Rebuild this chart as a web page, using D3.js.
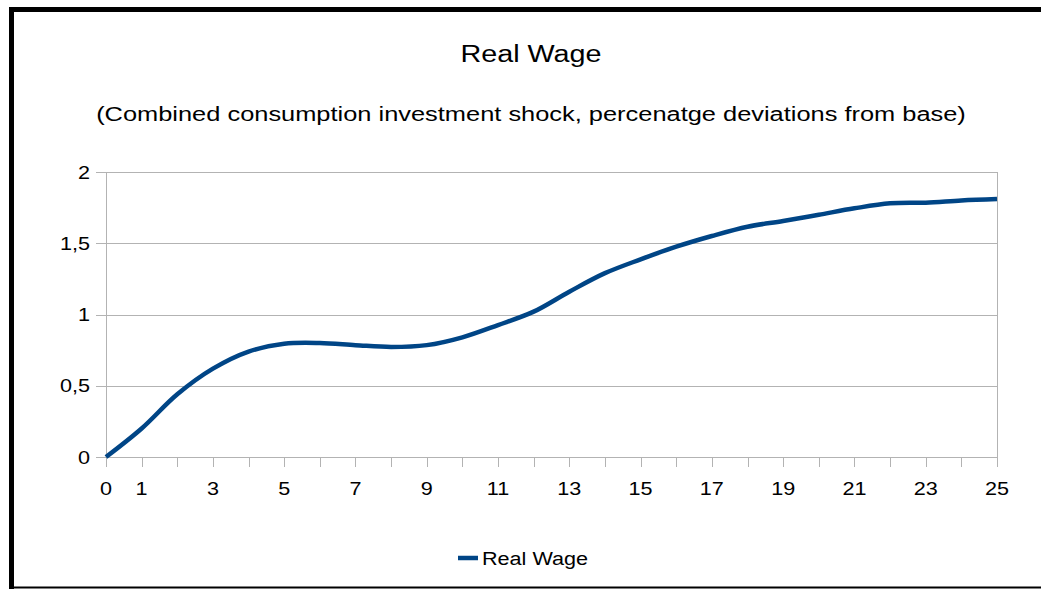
<!DOCTYPE html>
<html>
<head>
<meta charset="utf-8">
<title>Real Wage</title>
<script src="https://d3js.org/d3.v7.min.js"></script>
<style>
  body { margin: 0; background: #fff; }
  svg text { font-family: "Liberation Sans", Arial, sans-serif; fill: #000; }
</style>
</head>
<body>
<svg id="chart" width="1041" height="589"></svg>
<script>
// periods after the shock
var periods = d3.range(0, 26);
// real wage, % deviation from base
var realWage = [0, 0.20, 0.44, 0.62, 0.74, 0.795, 0.80, 0.785, 0.772, 0.785,
                0.84, 0.926, 1.02, 1.16, 1.29, 1.387, 1.476, 1.551, 1.616, 1.656,
                1.70, 1.745, 1.78, 1.785, 1.80, 1.81];
var xLabels = [0, 1, 3, 5, 7, 9, 11, 13, 15, 17, 19, 21, 23, 25];
var yTicks = [0, 0.5, 1, 1.5, 2];

var svg = d3.select("#chart");

// frame round the chart
svg.append("line").attr("x1", 11.5).attr("x2", 11.5).attr("y1", 7).attr("y2", 589)
  .attr("stroke", "#000").attr("stroke-width", 5);
svg.append("line").attr("x1", 9).attr("x2", 1041).attr("y1", 9.5).attr("y2", 9.5)
  .attr("stroke", "#000").attr("stroke-width", 5);
svg.append("line").attr("x1", 9).attr("x2", 1041).attr("y1", 587.5).attr("y2", 587.5)
  .attr("stroke", "#000").attr("stroke-width", 2);

var plotLeft = 106, plotRight = 997, plotTop = 172, plotBottom = 457;

var x = d3.scaleLinear().domain([0, 25]).range([plotLeft, plotRight]);
var y = d3.scaleLinear().domain([0, 2]).range([plotBottom, plotTop]);

// the reference font is drawn wider than Liberation Sans, so stretch texts
function widen(sel, k) {
  sel.each(function() {
    var w = this.getComputedTextLength();
    d3.select(this).attr("textLength", w * k).attr("lengthAdjust", "spacingAndGlyphs");
  });
}

// titles
svg.append("text").attr("x", 531).attr("y", 62).attr("text-anchor", "middle")
  .style("font-size", "23px").text("Real Wage")
  .call(widen, 1.25);
svg.append("text").attr("x", 531).attr("y", 121).attr("text-anchor", "middle")
  .style("font-size", "20px")
  .text("(Combined consumption investment shock, percenatge deviations from base)")
  .call(widen, 1.27);

// horizontal grid
svg.append("g").selectAll("line").data(yTicks).enter().append("line")
  .attr("x1", plotLeft - 10).attr("x2", plotRight)
  .attr("y1", d => Math.round(y(d)) + 0.5).attr("y2", d => Math.round(y(d)) + 0.5)
  .attr("stroke", "#b3b3b3").attr("stroke-width", 1);

// plot border sides
svg.append("line").attr("x1", plotLeft + 0.5).attr("x2", plotLeft + 0.5)
  .attr("y1", plotTop).attr("y2", plotBottom + 10)
  .attr("stroke", "#b3b3b3");
svg.append("line").attr("x1", plotRight + 0.5).attr("x2", plotRight + 0.5)
  .attr("y1", plotTop).attr("y2", plotBottom + 10)
  .attr("stroke", "#b3b3b3");

// x ticks
svg.append("g").selectAll("line").data(periods).enter().append("line")
  .attr("x1", d => Math.round(x(d)) + 0.5).attr("x2", d => Math.round(x(d)) + 0.5)
  .attr("y1", plotBottom).attr("y2", plotBottom + 10)
  .attr("stroke", "#b3b3b3");

svg.append("g").selectAll("text").data(xLabels).enter().append("text")
  .attr("x", d => x(d)).attr("y", 495)
  .attr("text-anchor", "middle").style("font-size", "18px")
  .text(d => d)
  .call(widen, 1.2);

var fmt = d => String(d).replace(".", ",");
svg.append("g").selectAll("text").data(yTicks).enter().append("text")
  .attr("x", 90).attr("y", d => y(d) + 6.5)
  .attr("text-anchor", "end").style("font-size", "18px")
  .text(fmt)
  .call(widen, 1.2);

// the series
var line = d3.line()
  .x((d, i) => x(periods[i]))
  .y(d => y(d))
  .curve(d3.curveCatmullRom.alpha(0.5));

svg.append("path").datum(realWage)
  .attr("d", line)
  .attr("fill", "none")
  .attr("stroke", "#004586")
  .attr("stroke-width", 4.5);

// legend
svg.append("line").attr("x1", 458).attr("x2", 478).attr("y1", 558).attr("y2", 558)
  .attr("stroke", "#004586").attr("stroke-width", 4.5);
svg.append("text").attr("x", 482).attr("y", 565).style("font-size", "18px").text("Real Wage")
  .call(widen, 1.2);
</script>
</body>
</html>
